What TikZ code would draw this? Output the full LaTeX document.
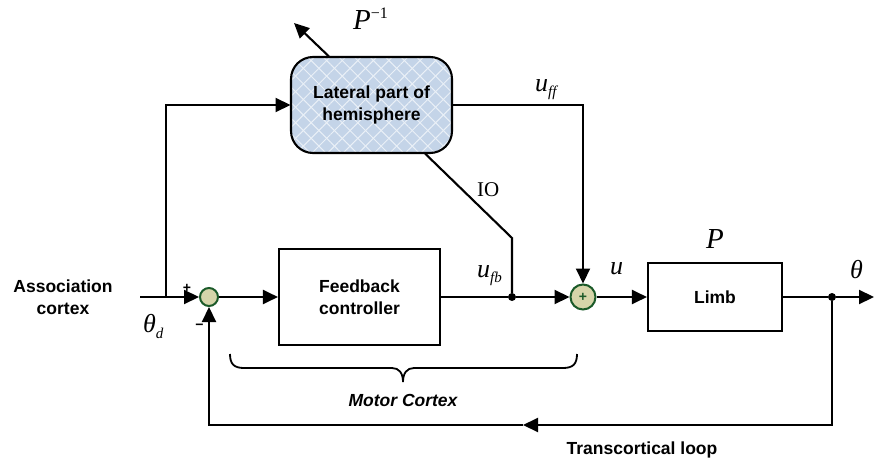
\documentclass[tikz,border=0pt]{standalone}
\usepackage{fontspec}
\setmainfont{Liberation Sans}
\newfontfamily\tms{Liberation Serif}
\usetikzlibrary{arrows.meta,patterns.meta,calc}

\definecolor{latblue}{HTML}{C4D4E8}
\definecolor{latgrid}{HTML}{EAF0F7}
\definecolor{sumfill}{HTML}{D6D5AA}
\definecolor{sumedge}{HTML}{1B5A29}

% small italic serif for subscripts of signal names
\newcommand\subfont{\tms\itshape\fontsize{15}{15}\selectfont}

\begin{document}
\begin{tikzpicture}[x=1pt,y=-1pt,
  wire/.style={line width=2.1pt, line join=miter},
  sig/.style={wire, -{Triangle[length=15pt,width=14pt]}},
  txt/.style={font=\bfseries\fontsize{17.5}{22}\selectfont, align=center, inner sep=0pt},
  block/.style={txt, draw, line width=2.1pt, fill=white},
  latbox/.style={txt, draw, line width=2.1pt, rounded corners=22pt,
    minimum width=161pt, minimum height=96pt,
    preaction={fill=latblue},
    preaction={pattern={Lines[angle=45,distance=11pt,line width=1pt]}, pattern color=latgrid},
    pattern={Lines[angle=-45,distance=11pt,line width=1pt]}, pattern color=latgrid},
  sumpt/.style={circle, draw=sumedge, fill=sumfill, line width=2pt, inner sep=0pt},
  mlab/.style={anchor=base west, inner sep=0pt, font=\tms\itshape\fontsize{26}{30}\selectfont},
  dot/.style={circle, fill=black, inner sep=0pt, minimum size=8pt}
]
\useasboundingbox (0,0) rectangle (874,465);

% blocks
\node[latbox] (lat) at (371.5,105) {Lateral part of\\hemisphere};
\node[block, minimum width=161pt, minimum height=96pt] (fb) at (359.5,297) {Feedback\\controller};
\node[block, minimum width=134pt, minimum height=68pt] (limb) at (715,297) {Limb};

% summing points
\node[sumpt, minimum size=18pt] (s1) at (209,297) {};
\node[sumpt, minimum size=25pt, text=sumedge, font=\bfseries\fontsize{14}{14}\selectfont] (s2) at (583,297) {+};

% branch points and free ends
\coordinate (in) at (140,297);
\coordinate (br) at (166,297);
\node[dot] (j) at (512,297) {};
\node[dot] (od) at (832,297) {};
\coordinate (out) at (874,297);
\coordinate (iostart) at ($(lat.south)+(53.5,0)$);
\coordinate (iobend) at (512,238);
\coordinate (pstart) at ($(lat.north)+(-42.5,0)$);
\coordinate (pinv) at (294,23);
\coordinate (fbarrow) at (523,425);

% forward path
\draw[wire] (in) -- (br);
\draw[sig] (br) -- (s1);
\draw[sig] (br) |- (lat.west);
\draw[sig] (s1) -- (fb);
\draw[wire] (fb) -- (j);
\draw[sig] (j) -- (s2);
\draw[sig] (lat.east) -| (s2.north);
\draw[wire] (iostart) -- (iobend) -- (j);
\draw[sig] (pstart) -- (pinv);
\draw[sig] (s2) -- (limb);
\draw[wire] (limb) -- (od);
\draw[sig] (od) -- (out);

% transcortical feedback loop
\draw[sig] (od) |- (fbarrow);
\draw[sig] (fbarrow) -| (s1.south);

% brace under the motor cortex part
\draw[line width=1.8pt] (230,354) .. controls (230,364) and (234,368) .. (244,368) -- (392,368)
  .. controls (399,368) and (403,373) .. (403,382)
  .. controls (403,373) and (407,368) .. (414,368) -- (563,368)
  .. controls (573,368) and (577,364) .. (577,354);

% text labels
\node[txt] (assoc) at (63,297) {Association\\cortex};
\node[txt, font=\bfseries\itshape\fontsize{17.5}{22}\selectfont] (motor) at (403,400) {Motor Cortex};
\node[txt] (trans) at (642,450) {Transcortical loop};
\node[inner sep=0pt, font=\bfseries\fontsize{14}{14}\selectfont] (plus) at (187,288) {+};
\node[inner sep=0pt, font=\bfseries\fontsize{14}{14}\selectfont] (minus) at (199.5,327) {−};

% signal names
\node[mlab] (thd) at (143,332) {θ\raisebox{-6pt}{\subfont d}};
\node[mlab] (ufb) at (477,277) {u\raisebox{-5pt}{\subfont fb}};
\node[mlab] (uff) at (535,92) {u\raisebox{-5pt}{\subfont ff}};
\node[mlab] (u) at (610,274) {u};
\node[mlab] (th) at (850,278) {θ};
\node[mlab, font=\tms\itshape\fontsize{29}{30}\selectfont] (pl) at (706,248) {P};
\node[mlab, font=\tms\itshape\fontsize{29}{30}\selectfont] (pi) at (353,30) {P\raisebox{11pt}{\tms\upshape\fontsize{16}{16}\selectfont −1}};
\node[anchor=base west, inner sep=0pt, font=\tms\fontsize{21}{21}\selectfont] (io) at (477,196) {IO};
\end{tikzpicture}
\end{document}
